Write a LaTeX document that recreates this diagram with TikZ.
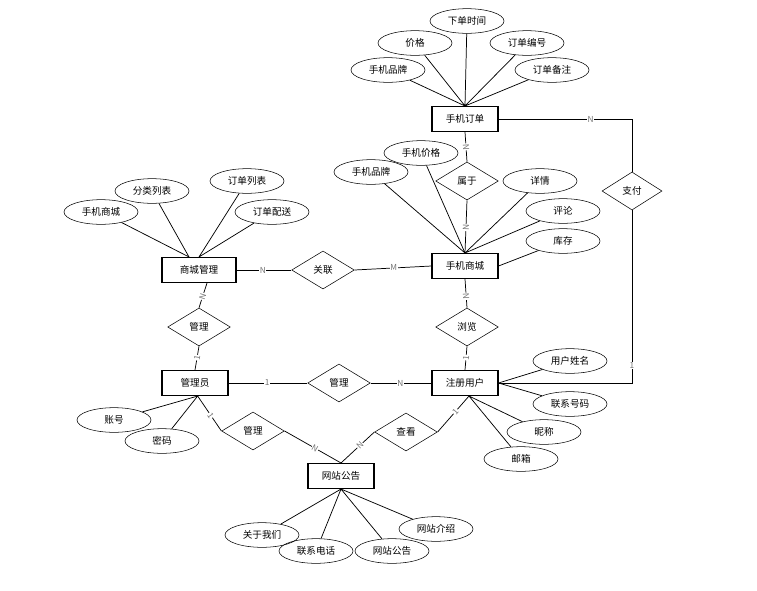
\documentclass[tikz,border=0pt]{standalone}
\usepackage{fontspec}
\setmainfont{Noto Sans CJK SC}
\usepackage{tikz}
\usetikzlibrary{shapes.geometric, calc}
\tikzset{
 ent/.style={draw, line width=0.8pt, minimum width=49.5pt, minimum height=18.75pt, inner sep=0pt, font=\fontsize{7.2}{8}\selectfont},
 rel/.style={draw, diamond, minimum width=47pt, minimum height=28.5pt, inner sep=0pt, font=\fontsize{7.2}{8}\selectfont},
 attr/.style={draw, ellipse, minimum width=55.5pt, minimum height=18.5pt, inner sep=0pt, font=\fontsize{7.2}{8}\selectfont},
 lbl/.style={font=\fontsize{6.2}{6}\selectfont, text=black!55, fill=white, inner sep=0.4pt},
 lnk/.style={line width=0.55pt}
}

\begin{document}
\begin{tikzpicture}[x=0.75pt, y=-0.75pt]
 \useasboundingbox (0,0) rectangle (757,590);
 \node[ent] (order) at (465,119) {手机订单};
 \node[ent] (mall) at (465,266) {手机商城};
 \node[ent, minimum width=55.5pt] (shopadm) at (199,270) {商城管理};
 \node[ent] (admin) at (195,383) {管理员};
 \node[ent] (user) at (465,383) {注册用户};
 \node[ent] (notice) at (341,476) {网站公告};

 \node[rel] (belong) at (467,181) {属于};
 \node[rel, minimum width=45pt] (pay) at (632,191) {支付};
 \node[rel] (link) at (323,270) {关联};
 \node[rel] (manageA) at (199,327) {管理};
 \node[rel] (manageB) at (339,383) {管理};
 \node[rel] (manageC) at (253,431) {管理};
 \node[rel] (browse) at (467,327) {浏览};
 \node[rel] (view) at (406,432) {查看};

 \node[attr] (ordtime) at (467,21) {下单时间};
 \node[attr] (ordprice) at (415,43) {价格};
 \node[attr] (ordno) at (527,43) {订单编号};
 \node[attr] (ordbrand) at (388,70) {手机品牌};
 \node[attr] (ordnote) at (552,70) {订单备注};
 \draw[lnk] (ordtime) -- (order.north) (ordprice) -- (order.north) (ordno) -- (order.north) (ordbrand) -- (order.north) (ordnote) -- (order.north);

 \node[attr] (mprice) at (421,153) {手机价格};
 \node[attr] (mbrand) at (371,172) {手机品牌};
 \node[attr] (mdetail) at (540,181) {详情};
 \node[attr] (mcomment) at (563,211) {评论};
 \node[attr] (mstock) at (563,241) {库存};
 \draw[lnk] (mprice) -- (mall.north) (mbrand) -- (mall.north) (mdetail) -- (mall.north) (mcomment) -- (mall.north) (mstock) -- (mall.east);

 \node[attr] (small) at (101,212) {手机商城};
 \node[attr] (scat) at (152,191) {分类列表};
 \node[attr] (slist) at (247,181) {订单列表};
 \node[attr] (sship) at (272,212) {订单配送};
 \draw[lnk] (small) -- ([xshift=-7.5pt]shopadm.north) (scat) -- ([xshift=-7.5pt]shopadm.north) (slist) -- (shopadm.north) (sship) -- (shopadm.north);

 \node[attr] (account) at (114,420) {账号};
 \node[attr] (passwd) at (162,441) {密码};
 \draw[lnk] (account) -- ([xshift=2pt]admin.south) (passwd) -- ([xshift=2pt]admin.south);

 \node[attr] (uname) at (570,361) {用户姓名};
 \node[attr] (uphone) at (570,404) {联系号码};
 \node[attr] (unick) at (544,432) {昵称};
 \node[attr] (umail) at (521,459) {邮箱};
 \draw[lnk] (uname) -- (user.east) (uphone) -- (user.east) (unick) -- ([xshift=3pt]user.south) (umail) -- ([xshift=3pt]user.south);

 \node[attr] (about) at (262,535) {关于我们};
 \node[attr] (tel) at (316,551) {联系电话};
 \node[attr] (nname) at (392,551) {网站公告};
 \node[attr] (intro) at (436,529) {网站介绍};
 \draw[lnk] (about) -- (notice.south) (tel) -- (notice.south) (nname) -- (notice.south) (intro) -- (notice.south);

 \draw[lnk] (order.east) -- node[lbl, pos=0.69]{N} (order.east -| pay.north) -- (pay.north);
 \draw[lnk] (pay.south) -- node[lbl, pos=0.9]{1} (pay.south |- user.east) -- (user.east);
 \draw[lnk] (order.south) -- node[lbl, sloped]{N} (belong.north);
 \draw[lnk] (belong.south) -- node[lbl, sloped, pos=0.52]{N} (mall.north);
 \draw[lnk] (shopadm.east) -- node[lbl, pos=0.48]{N} (link.west);
 \draw[lnk] (link.east) -- node[lbl, pos=0.51]{M} (mall.west);
 \draw[lnk] (mall.south) -- node[lbl, sloped, pos=0.6]{N} (browse.north);
 \draw[lnk] (browse.south) -- node[lbl, sloped, pos=0.48]{1} (user.north);
 \draw[lnk] ([xshift=6pt]shopadm.south) -- node[lbl, sloped, pos=0.54]{N} (manageA.north);
 \draw[lnk] (manageA.south) -- node[lbl, sloped, pos=0.48]{1} (admin.north);
 \draw[lnk] (admin.east) -- node[lbl, pos=0.49]{1} (manageB.west);
 \draw[lnk] (manageB.east) -- node[lbl, pos=0.49]{N} (user.west);
 \draw[lnk] ([xshift=2pt]admin.south) -- node[lbl, sloped, pos=0.55]{1} (manageC.west);
 \draw[lnk] (manageC.east) -- node[lbl, sloped, pos=0.54]{N} (notice.north);
 \draw[lnk] (view.west) -- node[lbl, sloped, pos=0.43]{N} (notice.north);
 \draw[lnk] (view.east) -- node[lbl, sloped, pos=0.57]{1} ([xshift=3pt]user.south);
\end{tikzpicture}
\end{document}
